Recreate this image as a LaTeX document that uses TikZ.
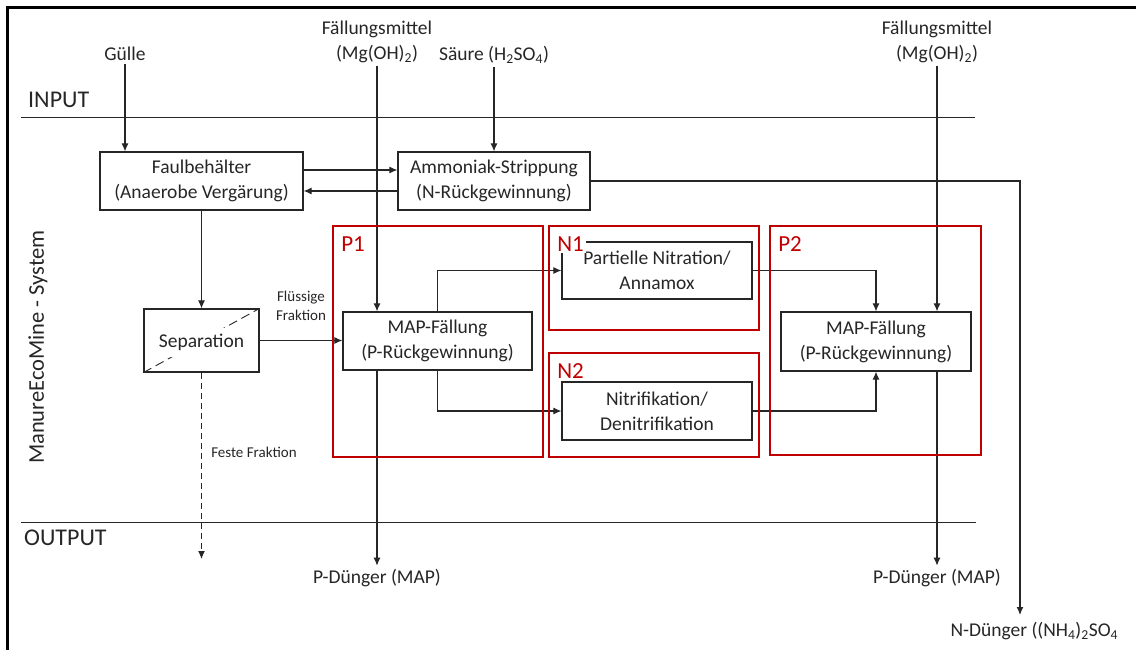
\documentclass[tikz,border=0pt]{standalone}
\usepackage{fontspec}
\setmainfont{Carlito}
\usetikzlibrary{arrows.meta}
\usetikzlibrary{fit}
\definecolor{framered}{RGB}{192,0,0}
\definecolor{inkgrey}{RGB}{38,38,38}

\newcommand{\redframe}[4] % name, top-left corner, bottom-right corner, label
{
	% red frame
	\node[groupbox, fit={#2 #3}] (#1) {};
	% frame label, white behind it
	\node[grouplabel, anchor=west] (#1label) at ([xshift=7pt,yshift=-18.5pt]#1.north west) {#4};
}

\begin{document}
\begin{tikzpicture}[x=1pt, y=-1pt,
	txt/.style={font=\fontsize{19.5}{25}\selectfont, text=inkgrey, align=center},
	small/.style={font=\fontsize{15}{19}\selectfont, text=inkgrey, align=center},
	big/.style={font=\fontsize{24}{28}\selectfont, text=inkgrey, inner sep=0pt},
	procbox/.style={txt, draw=inkgrey, line width=1.2pt, inner sep=0pt},
	groupbox/.style={draw=framered, line width=1.8pt, inner sep=0pt},
	grouplabel/.style={font=\fontsize{23}{27}\selectfont, text=framered, fill=white, inner sep=2pt},
	arr/.style={draw=inkgrey, line width=1.1pt, -{Latex[length=8pt,width=7pt]}},
	lin/.style={draw=inkgrey, line width=0.9pt}]

	\useasboundingbox (0,0) rectangle (1136,650);
	% outer frame, only top and left edge show
	\draw[line width=3pt, draw=black] (1136,8) -- (7,8) -- (7,650);
	% input / output border
	\draw[lin] (21,117) -- (975,117);
	\draw[lin] (21,522) -- (976,522);
	\node[big, anchor=west] (input) at (28,100) {INPUT};
	\node[big, anchor=west] (output) at (24,538) {OUTPUT};
	\node[font=\fontsize{22.5}{27}\selectfont, text=inkgrey, rotate=90] (system) at (38,347) {ManureEcoMine - System};

	% inputs
	\node[txt] (guelle) at (125,54) {Gülle};
	\node[txt] (fm1) at (377,42) {Fällungsmittel\\(Mg(OH)\textsubscript{2})};
	\node[txt] (saeure) at (494,55) {Säure (H\textsubscript{2}SO\textsubscript{4})};
	\node[txt] (fm2) at (937,42) {Fällungsmittel\\(Mg(OH)\textsubscript{2})};

	% process boxes
	\node[procbox, minimum width=203pt, minimum height=58pt] (faul) at (201.5,181) {Faulbehälter\\(Anaerobe Vergärung)};
	\node[procbox, minimum width=192pt, minimum height=58pt] (strip) at (494,181) {Ammoniak-Strippung\\(N-Rückgewinnung)};
	\node[procbox, minimum width=115pt, minimum height=63pt] (sep) at (201.5,340.5) {};
	\draw[lin, dash pattern=on 9pt off 5pt] (sep.south west) -- (sep.north east);
	\node[txt, fill=white, inner xsep=8pt, inner ysep=6pt] (septxt) at ([yshift=-2pt]sep) {Separation};
	\node[procbox, minimum width=189pt, minimum height=58pt] (map1) at (437.5,341) {MAP-Fällung\\(P-Rückgewinnung)};
	\node[procbox, minimum width=190pt, minimum height=57pt] (nitr1) at (657,270.5) {Partielle Nitration/\\Annamox};
	\node[procbox, minimum width=190pt, minimum height=58pt] (nitr2) at (657,411) {Nitrifikation/\\Denitrifikation};
	\node[procbox, minimum width=190pt, minimum height=59pt] (map2) at (876,341.5) {MAP-Fällung\\(P-Rückgewinnung)};

	% outputs
	\node[txt] (pd1) at (377,578) {P-Dünger (MAP)};
	\node[txt] (pd2) at (937,578) {P-Dünger (MAP)};
	\node[txt, anchor=west] (nd) at (947,631) {N-Dünger ((NH\textsubscript{4})\textsubscript{2}SO\textsubscript{4}};
	\coordinate (nout) at (1020,615);
	\coordinate (fest) at (201.5,559);

	% small labels
	\node[small] (fluessig) at (301,306) {Flüssige\\Fraktion};
	\node[small] (festlabel) at (254,452) {Feste Fraktion};

	% connectors
	\draw[arr] (guelle) -- (guelle |- faul.north);
	\draw[arr] (fm1) -- (fm1 |- map1.north);
	\draw[arr] (saeure) -- (saeure |- strip.north);
	\draw[arr] (fm2) -- (fm2 |- map2.north);
	\draw[arr] ([yshift=11pt]faul.east) -- ([yshift=11pt]strip.west);
	\draw[arr] ([yshift=-10pt]strip.west) -- ([yshift=-10pt]faul.east);
	\draw[arr] (strip.east) -| (nout);
	\draw[arr] (faul.south) -- (sep.north);
	\draw[arr] (sep.east) -- (sep.east -| map1.west);
	\draw[arr, dash pattern=on 6pt off 4pt] (sep.south) -- (fest);
	\draw[arr] (map1.north) |- (nitr1.west);
	\draw[arr] (map1.south) |- (nitr2.west);
	\draw[arr] (nitr1.east) -| (map2.north);
	\draw[arr] (nitr2.east) -| (map2.south);
	\draw[arr] (map1.south -| fm1) -- (pd1);
	\draw[arr] (map2.south -| fm2) -- (pd2);

	% red frames
	\redframe{p1}{(333,226)}{(543,457)}{P1}
	\redframe{n1}{(549,226)}{(759,330)}{N1}
	\redframe{n2}{(549,353)}{(759,457)}{N2}
	\redframe{p2}{(770,226)}{(981,455)}{P2}

\end{tikzpicture}
\end{document}
